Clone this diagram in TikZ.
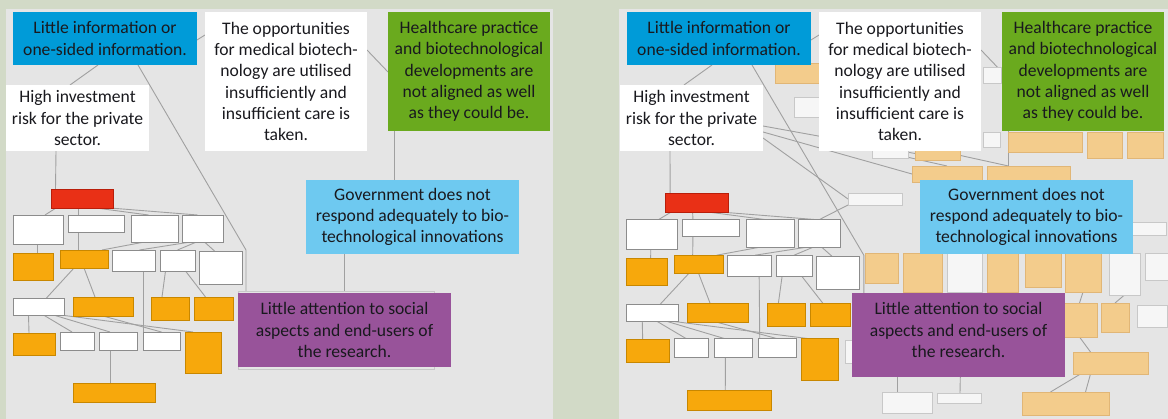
\documentclass[tikz,border=0pt]{standalone}
\usepackage{fontspec}
\setmainfont{Carlito}
\usetikzlibrary{calc}
\pgfdeclarelayer{bglayer}
\pgfdeclarelayer{linelayer}
\pgfsetlayers{bglayer,linelayer,main}
\definecolor{outerbg}{RGB}{210,218,199}
\definecolor{panelbg}{RGB}{229,229,229}
\definecolor{cblue}{RGB}{0,155,216}
\definecolor{cgreen}{RGB}{106,170,30}
\definecolor{clblue}{RGB}{110,201,240}
\definecolor{cpurple}{RGB}{152,83,154}
\definecolor{cred}{RGB}{233,48,22}
\definecolor{credb}{RGB}{185,30,10}
\definecolor{corange}{RGB}{247,168,12}
\definecolor{coranb}{RGB}{200,135,0}
\definecolor{cpeach}{RGB}{243,204,140}
\definecolor{cpeachb}{RGB}{225,182,118}
\definecolor{wborder}{RGB}{140,140,140}
\definecolor{fwfill}{RGB}{246,246,246}
\definecolor{fwborder}{RGB}{200,200,200}
\definecolor{linegray}{RGB}{160,160,160}
\definecolor{txt}{RGB}{25,25,30}
\tikzset{
  bigtext/.style={font=\fontsize{17.6}{21.2}\selectfont, align=center, text=txt},
  bluebox/.style={bigtext, fill=cblue},
  whitebig/.style={bigtext, fill=white},
  greenbox/.style={bigtext, fill=cgreen},
  lbluebox/.style={bigtext, fill=clblue},
  purplebox/.style={bigtext, fill=cpurple},
  shadowbox/.style={draw=fwborder, line width=0.8pt},
  wbox/.style={fill=white, draw=wborder, line width=0.8pt},
  obox/.style={fill=corange, draw=coranb, line width=0.8pt},
  rbox/.style={fill=cred, draw=credb, line width=0.8pt},
  pbox/.style={fill=cpeach, draw=cpeachb, line width=0.6pt},
  fwbox/.style={fill=fwfill, draw=fwborder, line width=0.6pt},
  link/.style={draw=linegray, line width=0.9pt},
}
\newcommand\bx[7]{%
  \pgfmathsetmacro\bxw{#5-#3}%
  \pgfmathsetmacro\bxh{#6-#4}%
  \node[#2, inner sep=0pt, outer sep=0pt, minimum width=\bxw pt, minimum height=\bxh pt] (#1) at ({(#3+#5)/2},{(#4+#6)/2}) {#7};%
}
\newcommand\tree[1]{%
  \bx{#1red}{rbox}{51}{189}{113}{208}{}
  \bx{#1A}{wbox}{13}{215}{63}{244}{}
  \bx{#1B}{wbox}{68}{215}{124}{232}{}
  \bx{#1C}{wbox}{131}{215}{178}{242}{}
  \bx{#1D}{wbox}{182}{215}{223}{242}{}
  \bx{#1E}{obox}{13}{253}{53}{280}{}
  \bx{#1F}{obox}{60}{250}{108}{268}{}
  \bx{#1G}{wbox}{112}{250}{155}{271}{}
  \bx{#1H}{wbox}{160}{250}{195}{271}{}
  \bx{#1I}{wbox}{199}{251}{242}{284}{}
  \bx{#1J}{wbox}{13}{298}{64}{315}{}
  \bx{#1K}{obox}{73}{297}{133}{316}{}
  \bx{#1L}{obox}{151}{297}{189}{320}{}
  \bx{#1M}{obox}{194}{297}{233}{320}{}
  \bx{#1N}{obox}{13}{333}{55}{355}{}
  \bx{#1O}{wbox}{60}{332}{94}{350}{}
  \bx{#1P}{wbox}{99}{332}{137}{350}{}
  \bx{#1Q}{wbox}{143}{332}{180}{350}{}
  \bx{#1R}{obox}{185}{332}{221}{373}{}
  \bx{#1S}{obox}{73}{383}{155}{402}{}
}
\newcommand\treelinks[1]{%
  \draw[link] ([xshift=-26pt]#1red.south) -- ([xshift=7pt]#1A.north);
  \draw[link] ([xshift=-4pt]#1red.south) -- ([xshift=-18pt]#1B.north);
  \draw[link] ([xshift=14pt]#1red.south) -- ([xshift=-6pt]#1C.north);
  \draw[link] ([xshift=28pt]#1red.south) -- ([xshift=-5pt]#1D.north);
  \draw[link] ([xshift=-1pt]#1A.south) -- ([xshift=4pt]#1E.north);
  \draw[link] ([xshift=-18pt]#1B.south) -- ([xshift=-6pt]#1F.north);
  \draw[link] ([xshift=-10pt]#1C.south) -- ([xshift=18pt]#1F.north);
  \draw[link] ([xshift=-12pt]#1D.south) -- ([xshift=6pt]#1G.north);
  \draw[link] ([xshift=-6pt]#1D.south) -- (#1H.north);
  \draw[link] ([xshift=2pt]#1D.south) -- ([xshift=-6pt]#1I.north);
  \draw[link] ([xshift=-10pt]#1F.south) -- ([xshift=8pt]#1J.north);
  \draw[link] (#1F.south) -- ([xshift=-8pt]#1K.north);
  \draw[link] ([xshift=10pt]#1G.south) -- ([xshift=-18pt]#1Q.north);
  \draw[link] ([xshift=-12pt]#1H.south) -- ([xshift=-8pt]#1L.north);
  \draw[link] ([xshift=8pt]#1H.south) -- ([xshift=-8pt]#1M.north);
  \draw[link] ([xshift=-10pt]#1J.south) -- ([xshift=-5pt]#1N.north);
  \draw[link] ([xshift=5pt]#1J.south) -- ([xshift=-5pt]#1O.north);
  \draw[link] ([xshift=15pt]#1J.south) -- ([xshift=-8pt]#1P.north);
  \draw[link] ([xshift=22pt]#1J.south) -- ([xshift=-10pt]#1R.north);
  \draw[link] (#1K.south) -- (#1Q.north);
  \draw[link] ([xshift=-8pt]#1P.south) -- ([xshift=-4pt]#1S.north);
}
\newcommand\panel[2]{%
  \begin{scope}[xshift=#2pt]
  \bx{#1b1}{bluebox}{13}{12}{197}{65}{Little information or\\one-sided information.}
  \bx{#1hi}{whitebig}{6}{85}{149}{151}{High investment\\risk for the private\\sector.}
  \bx{#1op}{whitebig}{205}{12}{367}{151}{The opportunities\\for medical biotech-\\nology are utilised\\insufficiently and\\insufficient care is\\taken.}
  \bx{#1gr}{greenbox}{388}{12}{550}{131}{Healthcare practice\\and biotechnological\\developments are\\not aligned as well\\as they could be.}
  \bx{#1gv}{lbluebox}{306}{180}{519}{254}{Government does not\\respond adequately to bio-\\technological innovations}
  \bx{#1pu}{purplebox}{238}{293}{451}{367}{Little attention to social\\aspects and end-users of\\the research.}
  \end{scope}
}
\newcommand\panellinks[1]{%
  \draw[link] ([xshift=-7pt]#1b1.south) -- ([xshift=-7.5pt]#1hi.north);
  \draw[link] ([xshift=-21.5pt]#1hi.south) -- ([xshift=-26.5pt]#1red.north);
  \draw[link] ([xshift=33pt]#1b1.south) -- ($(#1I.north east)+(4,-1)$) -- ++(0,41);
  \draw[link] ([yshift=-1.5pt]#1b1.east) -- ([yshift=46.5pt]#1op.west);
  \draw[link] ([yshift=31.5pt]#1op.east) -- ([yshift=-0.5pt]#1gr.west);
  \draw[link] ([xshift=-75pt]#1gr.south) -- ([xshift=-18.5pt]#1gv.north);
  \draw[link] ([xshift=-68.5pt]#1gv.south) -- ++(0,38);
}
\begin{document}
\begin{tikzpicture}[x=1pt,y=-1pt]
\useasboundingbox (0,0) rectangle (1168,419);
\begin{pgfonlayer}{bglayer}
  \fill[outerbg] (0,0) rectangle (1168,419);
  \fill[panelbg] (6,9) rectangle (553,419);
  \fill[panelbg] (619,9) rectangle (1168,419);
\end{pgfonlayer}
% faded boxes of the right panel
\bx{rp1}{pbox}{775}{63}{822}{83}{}
\bx{rp2}{pbox}{915}{147}{960}{160}{}
\bx{rp3}{pbox}{912}{166}{982}{182}{}
\bx{rp4}{pbox}{987}{166}{1070}{182}{}
\bx{rp5}{pbox}{1008}{132}{1082}{152}{}
\bx{rp6}{pbox}{1087}{132}{1122}{158}{}
\bx{rp7}{pbox}{1127}{132}{1163}{158}{}
\bx{rp8}{pbox}{865}{253}{898}{283}{}
\bx{rp9}{pbox}{903}{253}{942}{292}{}
\bx{rp10}{pbox}{987}{253}{1018}{292}{}
\bx{rp11}{pbox}{1025}{253}{1061}{287}{}
\bx{rp12}{pbox}{1065}{253}{1101}{292}{}
\bx{rp13}{pbox}{1062}{303}{1097}{337}{}
\bx{rp14}{pbox}{1101}{303}{1129}{332}{}
\bx{rp15}{pbox}{1073}{352}{1148}{374}{}
\bx{rp16}{pbox}{1022}{392}{1109}{415}{}
\bx{rw1}{fwbox}{794}{97}{822}{117}{}
\bx{rw2}{fwbox}{872}{148}{908}{158}{}
\bx{rw3}{fwbox}{848}{193}{902}{205}{}
\bx{rw4}{fwbox}{983}{132}{1000}{147}{}
\bx{rw5}{fwbox}{1132}{222}{1166}{235}{}
\bx{rw6}{fwbox}{947}{253}{982}{292}{}
\bx{rw7}{fwbox}{1109}{253}{1140}{295}{}
\bx{rw8}{fwbox}{1145}{253}{1170}{280}{}
\bx{rw9}{fwbox}{1137}{305}{1167}{327}{}
\bx{rw10}{fwbox}{882}{392}{932}{413}{}
\bx{rw11}{fwbox}{937}{393}{981}{403}{}
\bx{rw12}{fwbox}{845}{340}{862}{363}{}
\bx{rw13}{fwbox}{983}{67}{1001}{83}{}
% small trees
\tree{l-}
\begin{scope}[shift={(613,0.2)}, scale=1.02, transform shape]
\tree{r-}
\end{scope}
\bx{l-sh}{shadowbox}{238}{291}{434}{369}{}
% big boxes
\panel{l-}{0}
\panel{r-}{614}
\fill[cpurple] (852,366.5) rectangle (1065,377);
% connectors
\begin{pgfonlayer}{linelayer}
\treelinks{l-}
\treelinks{r-}
\panellinks{l-}
\panellinks{r-}
\draw[link] ([yshift=-8pt]r-hi.east) -- (rp2.west);
\draw[link] ([yshift=-14pt]r-hi.east) -- (rp3.west);
\draw[link] ([yshift=-20pt]r-hi.east) -- (rw3.west);
\draw[link] (r-D.north) -- (rw3.south west);
\draw[link] ([xshift=-20pt]r-op.south) -- (rp3.north);
\draw[link] ([xshift=40pt]r-op.south) -- ([xshift=-20pt]rp4.north);
\draw[link] ([xshift=-61.5pt]r-pu.south) -- ([xshift=-10pt]rw10.north);
\draw[link] ([xshift=2pt]r-pu.south) -- ([xshift=1pt]rw11.north);
\draw[link] (rp12.south) -- (rp13.north);
\draw[link] (rw7.south) -- (rp14.north);
\draw[link] (rp13.south) -- ([xshift=-20pt]rp15.north);
\draw[link] ([xshift=-30pt]rp15.south) -- ([xshift=-15pt]rp16.north);
\draw[link] ([xshift=-20pt]rp15.south) -- ([xshift=20pt]rp16.north);
\end{pgfonlayer}
\end{tikzpicture}
\end{document}
